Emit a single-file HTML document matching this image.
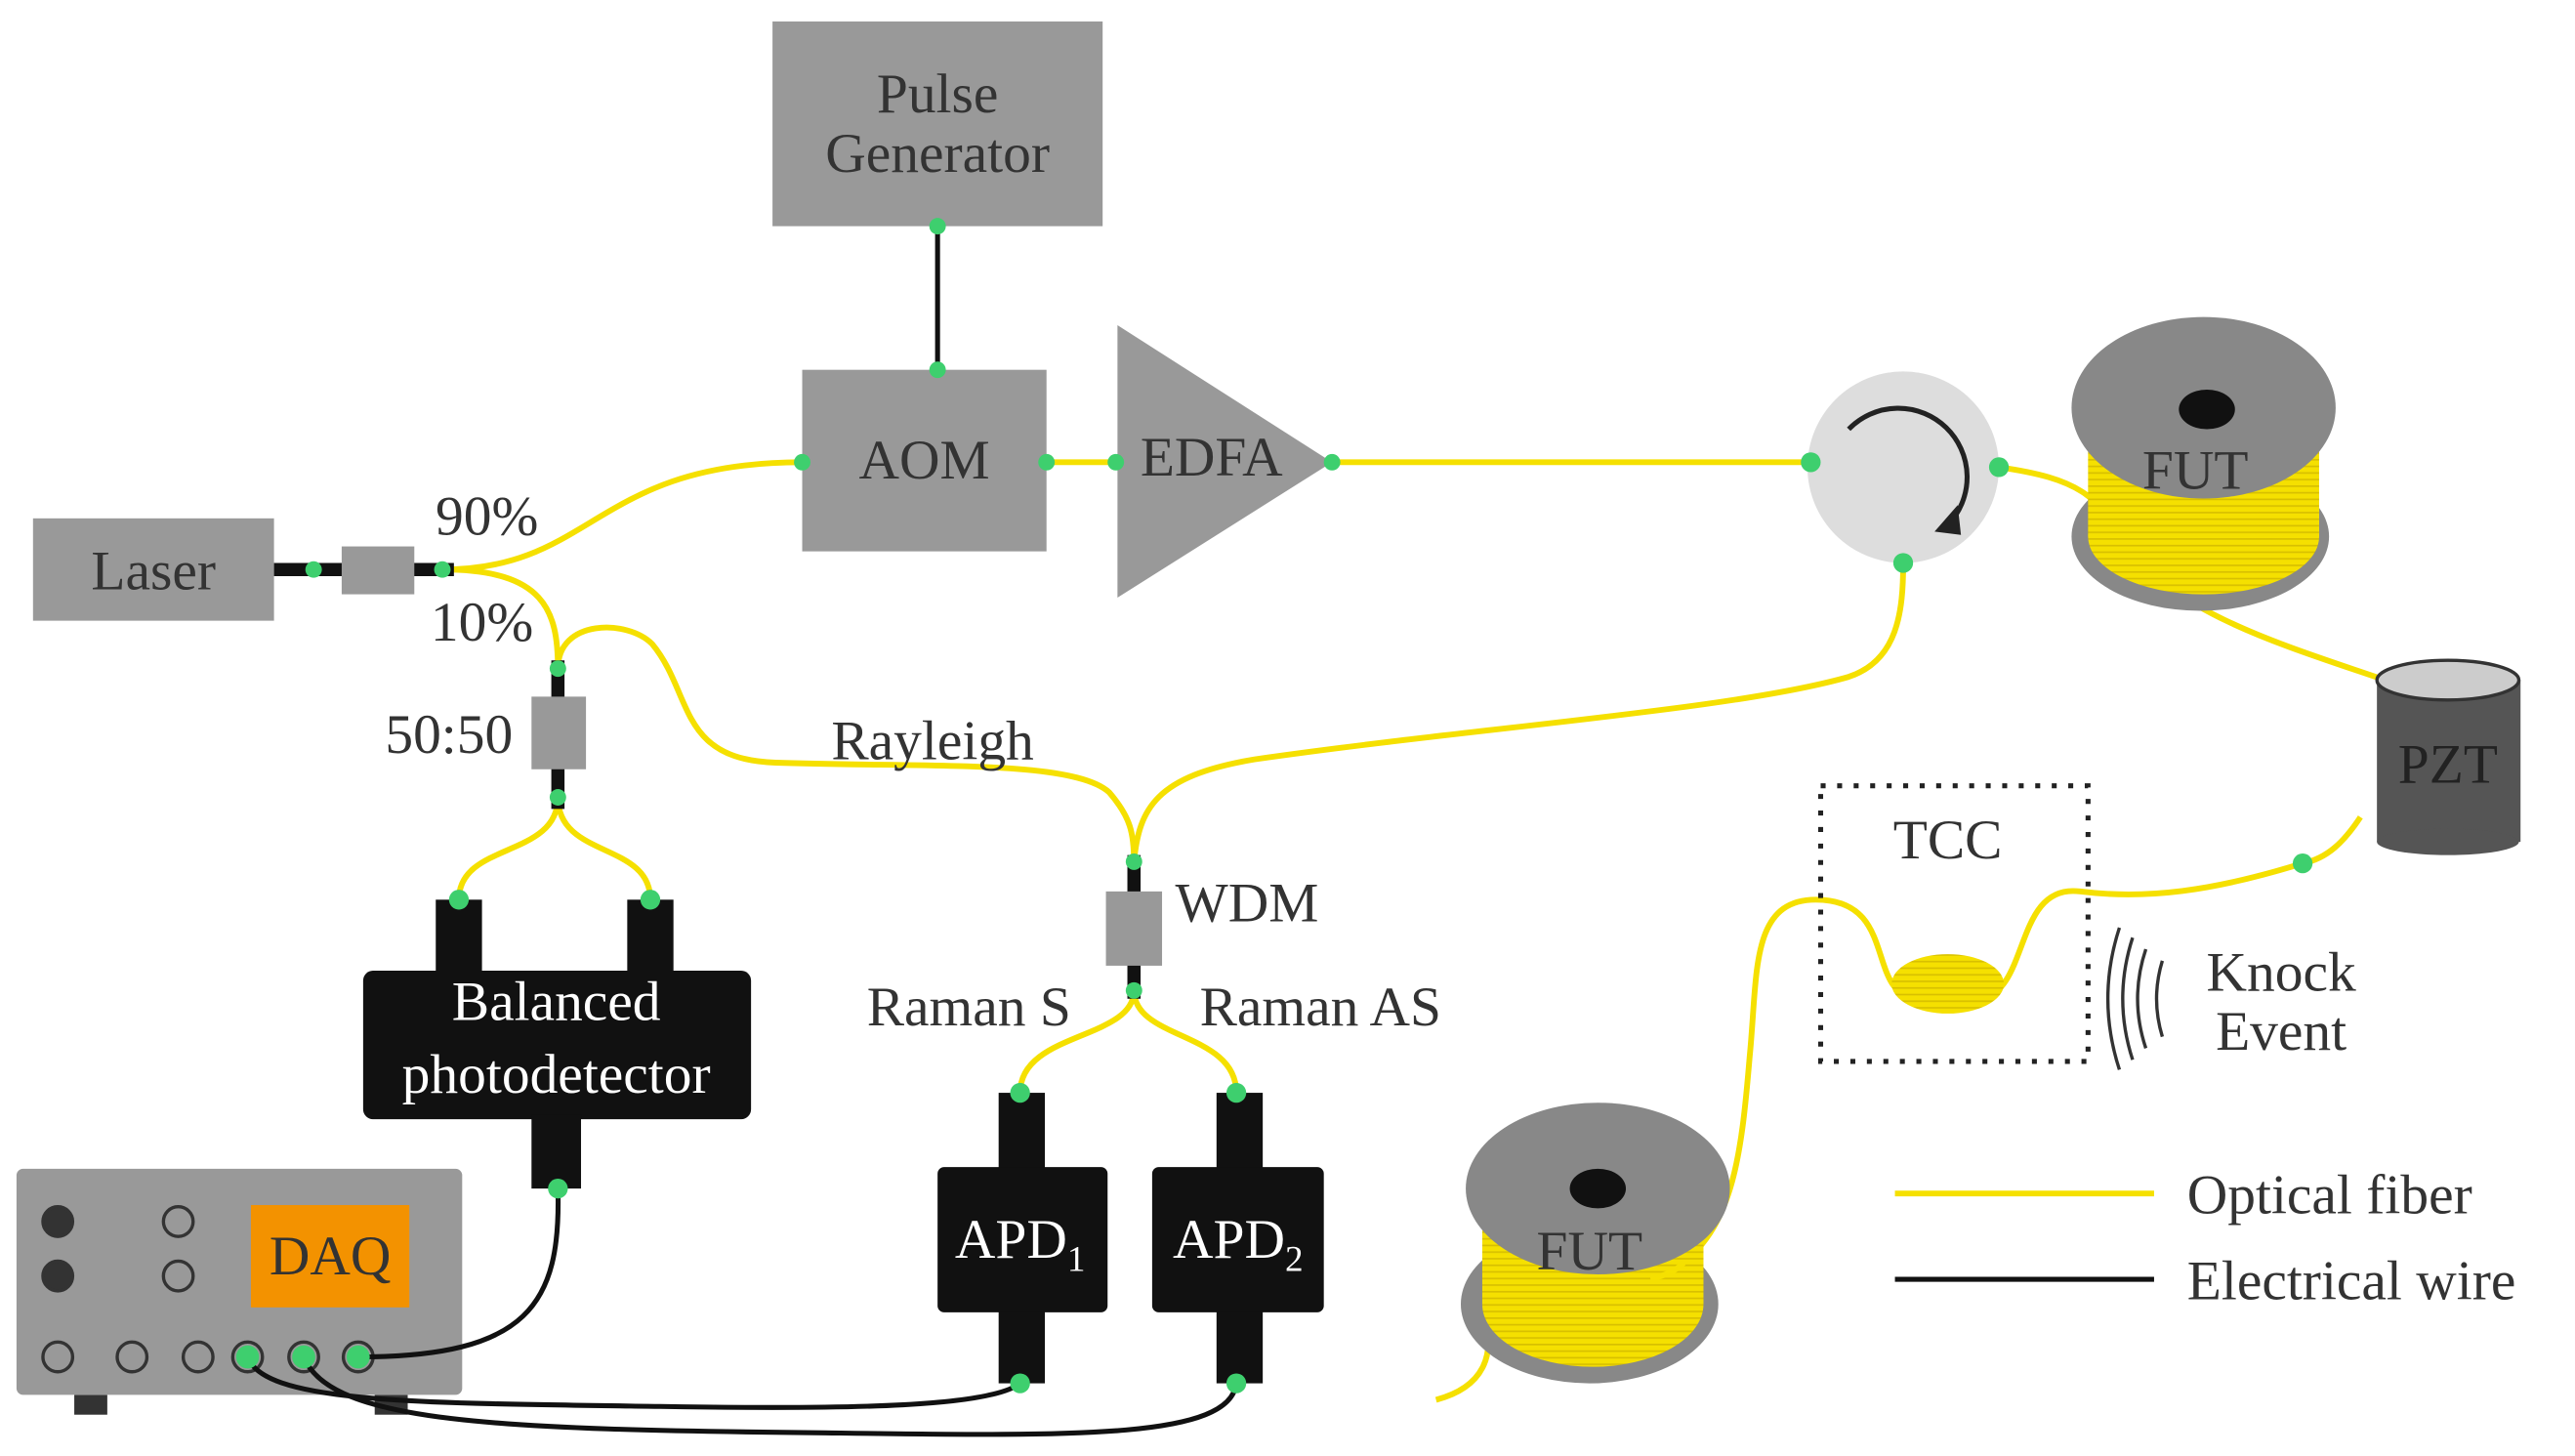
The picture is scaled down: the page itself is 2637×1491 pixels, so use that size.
<!DOCTYPE html>
<html><head><meta charset="utf-8"><style>html,body{margin:0;padding:0;background:#fff}svg{display:block}</style></head><body>
<svg width="2637" height="1491" viewBox="0 0 1560 882" xmlns="http://www.w3.org/2000/svg" font-family="Liberation Serif, serif" font-size="34" fill="#333">
<defs>
<pattern id="coil" width="4" height="4" patternUnits="userSpaceOnUse"><rect width="4" height="4" fill="#f5e000"/><rect y="2" width="4" height="1" fill="#d8c000"/></pattern>
</defs>
<rect x="468" y="13" width="200" height="124" fill="#999"/>
<text x="568" y="68" text-anchor="middle">Pulse</text>
<text x="568" y="104" text-anchor="middle">Generator</text>
<line x1="568" y1="137" x2="568" y2="224" stroke="#111" stroke-width="3"/>
<rect x="486" y="224" width="148" height="110" fill="#999"/>
<text x="560" y="290" text-anchor="middle">AOM</text>
<polygon points="677,197 677,362 807,280" fill="#999"/>
<text x="734" y="288" text-anchor="middle">EDFA</text>
<!-- Yellow fibers -->
<g fill="none" stroke="#f5e000" stroke-width="3.5">
<line x1="634" y1="280" x2="677" y2="280"/>
<line x1="807" y1="280" x2="1097" y2="280"/>
<path d="M268,345 C360,345 360,280 486,280"/>
<path d="M268,345 C330,345 338,370 338,405"/>
<path d="M338,405 C338,375 380,375 395,390 C420,420 410,460 470,462 C560,465 650,460 672,480 C685,495 687,505 687,522"/>
<path d="M687,522 C690,490 700,470 760,460 C900,440 1050,430 1120,410 C1150,400 1153,370 1153,341"/>
<path d="M338,483 C338,520 278,510 278,545"/>
<path d="M338,483 C338,520 394,510 394,545"/>
<path d="M687,600 C687,630 618,625 618,662"/>
<path d="M687,600 C687,630 749,625 749,662"/>
<path d="M1211,283 C1260,290 1270,300 1290,330 C1320,380 1420,400 1480,425"/>
<path d="M1430,495 C1420,510 1410,520 1395,523 C1340,540 1300,545 1260,540 C1220,535 1230,600 1200,605 L1160,605 C1130,600 1150,545 1100,545 C1060,545 1065,590 1060,640 C1055,700 1050,740 1020,765"/>
<path d="M900,800 C905,820 900,840 870,848"/>
<line x1="1148" y1="723" x2="1305" y2="723"/>
</g>
<!-- circulator -->
<circle cx="1153" cy="283" r="58" fill="#ddd"/>
<path d="M1120,260 A40,40 0 1 1 1180,318" fill="none" stroke="#222" stroke-width="3"/>
<polygon points="1172,322 1186,306 1188,324" fill="#222"/>
<!-- FUT top -->
<ellipse cx="1333" cy="325" rx="78" ry="45" fill="#888"/>
<rect x="1265" y="250" width="140" height="75" fill="url(#coil)"/>
<ellipse cx="1335" cy="325" rx="70" ry="35" fill="url(#coil)"/>
<ellipse cx="1335" cy="247" rx="80" ry="55" fill="#888"/>
<ellipse cx="1337" cy="248" rx="17" ry="12" fill="#111"/>
<text x="1330" y="296" text-anchor="middle">FUT</text>
<!-- PZT -->
<rect x="1440" y="412" width="87" height="98" fill="#555"/>
<ellipse cx="1483" cy="510" rx="43" ry="8" fill="#555"/>
<ellipse cx="1483" cy="412" rx="43" ry="12" fill="#ccc" stroke="#333" stroke-width="2"/>
<text x="1483" y="474" text-anchor="middle" fill="#222">PZT</text>
<!-- Laser and couplers -->
<rect x="20" y="314" width="146" height="62" fill="#999"/>
<text x="93" y="357" text-anchor="middle">Laser</text>
<line x1="166" y1="345" x2="275" y2="345" stroke="#111" stroke-width="8"/>
<rect x="207" y="331" width="44" height="29" fill="#999"/>
<text x="295" y="324" text-anchor="middle">90%</text>
<text x="292" y="388" text-anchor="middle">10%</text>
<line x1="338" y1="400" x2="338" y2="490" stroke="#111" stroke-width="8"/>
<rect x="322" y="422" width="33" height="44" fill="#999"/>
<text x="272" y="456" text-anchor="middle">50:50</text>
<text x="565" y="460" text-anchor="middle">Rayleigh</text>
<line x1="687" y1="518" x2="687" y2="605" stroke="#111" stroke-width="8"/>
<rect x="670" y="540" width="34" height="45" fill="#999"/>
<text x="712" y="558">WDM</text>
<text x="587" y="621" text-anchor="middle">Raman S</text>
<text x="800" y="621" text-anchor="middle">Raman AS</text>
<!-- Balanced PD -->
<rect x="264" y="545" width="28" height="50" fill="#111"/>
<rect x="380" y="545" width="28" height="50" fill="#111"/>
<rect x="220" y="588" width="235" height="90" rx="6" fill="#111"/>
<rect x="322" y="675" width="30" height="45" fill="#111"/>
<text x="337" y="618" text-anchor="middle" fill="#fff">Balanced</text>
<text x="337" y="662" text-anchor="middle" fill="#fff">photodetector</text>
<!-- APDs -->
<rect x="605" y="662" width="28" height="50" fill="#111"/>
<rect x="605" y="790" width="28" height="48" fill="#111"/>
<rect x="568" y="707" width="103" height="88" rx="4" fill="#111"/>
<text x="618" y="762" text-anchor="middle" fill="#fff">APD<tspan font-size="22" dy="8">1</tspan></text>
<rect x="737" y="662" width="28" height="50" fill="#111"/>
<rect x="737" y="790" width="28" height="48" fill="#111"/>
<rect x="698" y="707" width="104" height="88" rx="4" fill="#111"/>
<text x="750" y="762" text-anchor="middle" fill="#fff">APD<tspan font-size="22" dy="8">2</tspan></text>
<!-- DAQ -->
<rect x="45" y="845" width="20" height="12" fill="#333"/>
<rect x="227" y="845" width="20" height="12" fill="#333"/>
<rect x="10" y="708" width="270" height="137" rx="4" fill="#999"/>
<rect x="152" y="730" width="96" height="62" fill="#f39200"/>
<text x="200" y="772" text-anchor="middle">DAQ</text>
<g stroke="#333" stroke-width="2" fill="none">
<circle cx="35" cy="740" r="9" fill="#333"/><circle cx="35" cy="773" r="9" fill="#333"/>
<circle cx="108" cy="740" r="9"/><circle cx="108" cy="773" r="9"/>
<circle cx="35" cy="822" r="9"/><circle cx="80" cy="822" r="9"/><circle cx="120" cy="822" r="9"/>
<circle cx="150" cy="822" r="9"/><circle cx="184" cy="822" r="9"/><circle cx="217" cy="822" r="9"/>
</g>
<!-- electrical wires -->
<g fill="none" stroke="#111" stroke-width="3">
<path d="M338,720 C340,790 320,822 217,822"/>
<path d="M150,822 C160,850 250,850 400,852 C520,854 600,852 618,838"/>
<path d="M184,822 C200,862 300,866 500,868 C650,870 745,872 749,838"/>
<line x1="1148" y1="775" x2="1305" y2="775"/>
</g>
<!-- TCC -->
<rect x="1103" y="476" width="162" height="167" fill="none" stroke="#222" stroke-width="3" stroke-dasharray="3,7"/>
<text x="1180" y="520" text-anchor="middle">TCC</text>
<ellipse cx="1180" cy="596" rx="34" ry="18" fill="url(#coil)"/>
<!-- Knock -->
<g fill="none" stroke="#333" stroke-width="2">
<path d="M1300,575 Q1290,605 1300,635"/><path d="M1292,568 Q1280,605 1292,642"/><path d="M1284,562 Q1270,605 1284,648"/><path d="M1310,582 Q1303,605 1310,628"/>
</g>
<text x="1382" y="600" text-anchor="middle">Knock</text>
<text x="1382" y="636" text-anchor="middle">Event</text>
<!-- FUT bottom -->
<ellipse cx="963" cy="790" rx="78" ry="48" fill="#888"/>
<rect x="898" y="722" width="134" height="68" fill="url(#coil)"/>
<ellipse cx="965" cy="790" rx="67" ry="38" fill="url(#coil)"/>
<ellipse cx="968" cy="720" rx="80" ry="52" fill="#888"/>
<ellipse cx="968" cy="720" rx="17" ry="12" fill="#111"/>
<text x="963" y="769" text-anchor="middle">FUT</text>
<path d="M1020,765 C1015,770 1010,772 1000,775" fill="none" stroke="#f5e000" stroke-width="3.5"/>
<text x="1325" y="735">Optical fiber</text>
<text x="1325" y="787">Electrical wire</text>
<!-- green dots -->
<g fill="#3ecf6e">
<circle cx="568" cy="137" r="5"/><circle cx="568" cy="224" r="5"/>
<circle cx="486" cy="280" r="5"/><circle cx="634" cy="280" r="5"/><circle cx="676" cy="280" r="5"/><circle cx="807" cy="280" r="5"/>
<circle cx="1097" cy="280" r="6"/><circle cx="1211" cy="283" r="6"/><circle cx="1153" cy="341" r="6"/>
<circle cx="190" cy="345" r="5"/><circle cx="268" cy="345" r="5"/>
<circle cx="338" cy="405" r="5"/><circle cx="338" cy="483" r="5"/>
<circle cx="278" cy="545" r="6"/><circle cx="394" cy="545" r="6"/><circle cx="338" cy="720" r="6"/>
<circle cx="687" cy="522" r="5"/><circle cx="687" cy="600" r="5"/>
<circle cx="618" cy="662" r="6"/><circle cx="749" cy="662" r="6"/><circle cx="618" cy="838" r="6"/><circle cx="749" cy="838" r="6"/>
<circle cx="150" cy="822" r="7"/><circle cx="184" cy="822" r="7"/><circle cx="217" cy="822" r="7"/>
<circle cx="1395" cy="523" r="6"/>
</g>
</svg>
</body></html>
